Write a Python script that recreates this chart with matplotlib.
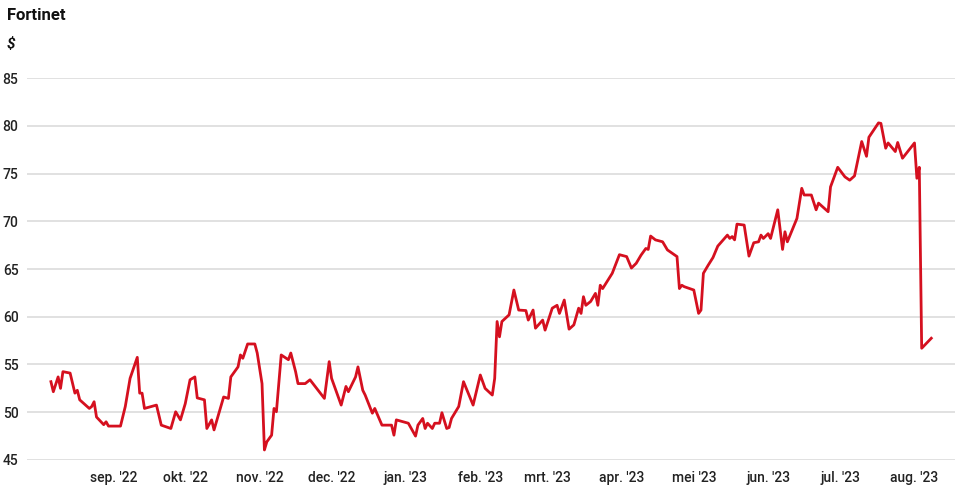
import numpy as np
import pandas as pd
import matplotlib
matplotlib.use("Agg")
import matplotlib.pyplot as plt
import matplotlib.dates as mdates

# koers Fortinet
dates = [
    "2022-08-06", "2022-08-07", "2022-08-09", "2022-08-10", "2022-08-11", "2022-08-14",
    "2022-08-16", "2022-08-17", "2022-08-18", "2022-08-22", "2022-08-23", "2022-08-24",
    "2022-08-25", "2022-08-28", "2022-08-29", "2022-08-30", "2022-09-04", "2022-09-06",
    "2022-09-08", "2022-09-11", "2022-09-12", "2022-09-13", "2022-09-14", "2022-09-19",
    "2022-09-21", "2022-09-25", "2022-09-27", "2022-09-29", "2022-10-01", "2022-10-03",
    "2022-10-05", "2022-10-06", "2022-10-09", "2022-10-10", "2022-10-12", "2022-10-13",
    "2022-10-17", "2022-10-19", "2022-10-20", "2022-10-23", "2022-10-24", "2022-10-25",
    "2022-10-27", "2022-10-30", "2022-10-31", "2022-11-02", "2022-11-03", "2022-11-04",
    "2022-11-06", "2022-11-07", "2022-11-08", "2022-11-10", "2022-11-13", "2022-11-14",
    "2022-11-16", "2022-11-17", "2022-11-20", "2022-11-22", "2022-11-28", "2022-11-30",
    "2022-12-01", "2022-12-05", "2022-12-07", "2022-12-08", "2022-12-11", "2022-12-12",
    "2022-12-14", "2022-12-15", "2022-12-18", "2022-12-19", "2022-12-22", "2022-12-26",
    "2022-12-27", "2022-12-28", "2023-01-02", "2023-01-05", "2023-01-06", "2023-01-08",
    "2023-01-09", "2023-01-10", "2023-01-12", "2023-01-13", "2023-01-15", "2023-01-16",
    "2023-01-18", "2023-01-19", "2023-01-20", "2023-01-23", "2023-01-25", "2023-01-29",
    "2023-02-01", "2023-02-03", "2023-02-06", "2023-02-07", "2023-02-08", "2023-02-09",
    "2023-02-10", "2023-02-13", "2023-02-15", "2023-02-17", "2023-02-20", "2023-02-21",
    "2023-02-23", "2023-02-24", "2023-02-27", "2023-02-28", "2023-03-03", "2023-03-05",
    "2023-03-06", "2023-03-08", "2023-03-10", "2023-03-12", "2023-03-14", "2023-03-15",
    "2023-03-16", "2023-03-17", "2023-03-19", "2023-03-21", "2023-03-22", "2023-03-23",
    "2023-03-24", "2023-03-28", "2023-03-31", "2023-04-03", "2023-04-05", "2023-04-07",
    "2023-04-09", "2023-04-10", "2023-04-11", "2023-04-12", "2023-04-13", "2023-04-15",
    "2023-04-18", "2023-04-20", "2023-04-24", "2023-04-25", "2023-04-26", "2023-04-27",
    "2023-05-01", "2023-05-03", "2023-05-04", "2023-05-05", "2023-05-07", "2023-05-09",
    "2023-05-11", "2023-05-15", "2023-05-16", "2023-05-17", "2023-05-18", "2023-05-19",
    "2023-05-22", "2023-05-24", "2023-05-26", "2023-05-28", "2023-05-29", "2023-05-30",
    "2023-06-01", "2023-06-02", "2023-06-05", "2023-06-07", "2023-06-08", "2023-06-09",
    "2023-06-13", "2023-06-15", "2023-06-16", "2023-06-19", "2023-06-21", "2023-06-22",
    "2023-06-26", "2023-06-27", "2023-06-30", "2023-07-03", "2023-07-05", "2023-07-07",
    "2023-07-10", "2023-07-12", "2023-07-13", "2023-07-17", "2023-07-18", "2023-07-20",
    "2023-07-21", "2023-07-24", "2023-07-25", "2023-07-27", "2023-08-01", "2023-08-02",
    "2023-08-03", "2023-08-04", "2023-08-08",
]
prices = [
    53.2, 52.15, 53.7, 52.5, 54.25, 54.1,
    52.0, 52.3, 51.3, 50.4, 50.6, 51.1,
    49.5, 48.7, 49.0, 48.55, 48.55, 50.6,
    53.55, 55.75, 52.0, 52.0, 50.4, 50.75,
    48.65, 48.3, 50.05, 49.2, 50.9, 53.4,
    53.7, 51.5, 51.3, 48.3, 49.2, 48.15,
    51.6, 51.45, 53.7, 54.75, 56.0, 55.65,
    57.15, 57.15, 56.2, 53.0, 46.05, 46.9,
    47.6, 50.4, 50.05, 56.0, 55.5, 56.2,
    54.25, 53.0, 53.0, 53.4, 51.45, 55.3,
    53.55, 50.75, 52.7, 52.15, 53.7, 54.75,
    52.3, 51.8, 49.9, 50.4, 48.65, 48.65,
    47.6, 49.2, 48.85, 47.5, 48.65, 49.35,
    48.3, 48.85, 48.3, 48.85, 48.85, 49.95,
    48.3, 48.4, 49.35, 50.6, 53.2, 50.75,
    53.9, 52.5, 51.8, 53.55, 59.5, 57.9,
    59.5, 60.2, 62.8, 60.7, 60.65, 59.65,
    60.7, 58.8, 59.65, 58.6, 60.9, 61.2,
    60.35, 61.75, 58.7, 59.15, 60.9, 60.35,
    62.1, 61.2, 61.6, 62.45, 61.2, 63.3,
    62.95, 64.55, 66.5, 66.3, 65.1, 65.6,
    66.45, 66.8, 67.15, 67.05, 68.45, 68.05,
    67.85, 67.0, 66.3, 62.95, 63.3, 63.15,
    62.8, 60.35, 60.7, 64.55, 65.4, 66.2,
    67.4, 68.55, 68.2, 68.4, 68.05, 69.7,
    69.6, 66.35, 67.75, 67.85, 68.55, 68.2,
    68.7, 68.2, 71.2, 67.05, 68.9, 67.85,
    70.3, 73.45, 72.75, 72.75, 71.2, 71.9,
    71.0, 73.6, 75.65, 74.65, 74.3, 74.75,
    78.35, 76.8, 78.8, 80.3, 80.25, 77.65,
    78.2, 77.3, 78.25, 76.6, 78.2, 74.5,
    75.65, 56.7, 57.75,
]

month_ticks = ["2022-09-01", "2022-10-01", "2022-11-01", "2022-12-01", "2023-01-01",
               "2023-02-01", "2023-03-01", "2023-04-01", "2023-05-01", "2023-06-01",
               "2023-07-01", "2023-08-01"]
month_labels = ["sep. '22", "okt. '22", "nov. '22", "dec. '22", "jan. '23", "feb. '23",
                "mrt. '23", "apr. '23", "mei '23", "jun. '23", "jul. '23", "aug. '23"]
y_ticks = [45, 50, 55, 60, 65, 70, 75, 80, 85]

plt.rcParams['font.family'] = ['Roboto', 'DejaVu Sans']

df = pd.DataFrame({"date": pd.to_datetime(dates), "price": prices})

fig = plt.figure(figsize=(9.62, 5.03), dpi=100)
ax = fig.add_axes([0.028, 0.0855, 0.965, 0.7594])

ax.plot(df["date"], df["price"], color="#d5101f", lw=2.0, solid_joinstyle="round")

ax.set_ylim(45, 85)
ax.set_yticks(y_ticks)
ax.set_xlim(pd.Timestamp("2022-07-27"), pd.Timestamp("2023-08-18"))
ax.set_xticks(pd.to_datetime(month_ticks))
ax.set_xticklabels(month_labels)

ax.grid(axis="y", color="#d8d8d8", lw=1.1)
ax.set_axisbelow(True)
for s in ax.spines.values():
    s.set_visible(False)
ax.tick_params(axis="both", length=0, labelsize=10, colors="#222222")
ax.tick_params(axis="x", pad=8)
ax.tick_params(axis="y", pad=6)
for lab in ax.get_xticklabels() + ax.get_yticklabels():
    lab.set_fontweight("medium")

fig.text(0.007, 0.985, "Fortinet", fontsize=12, fontweight="bold", color="#111111", va="top")
fig.text(0.007, 0.912, "$", fontsize=11, fontstyle="italic", fontweight="bold",
         color="#111111", va="center")

fig.savefig("out.png", dpi=100, facecolor="white")
